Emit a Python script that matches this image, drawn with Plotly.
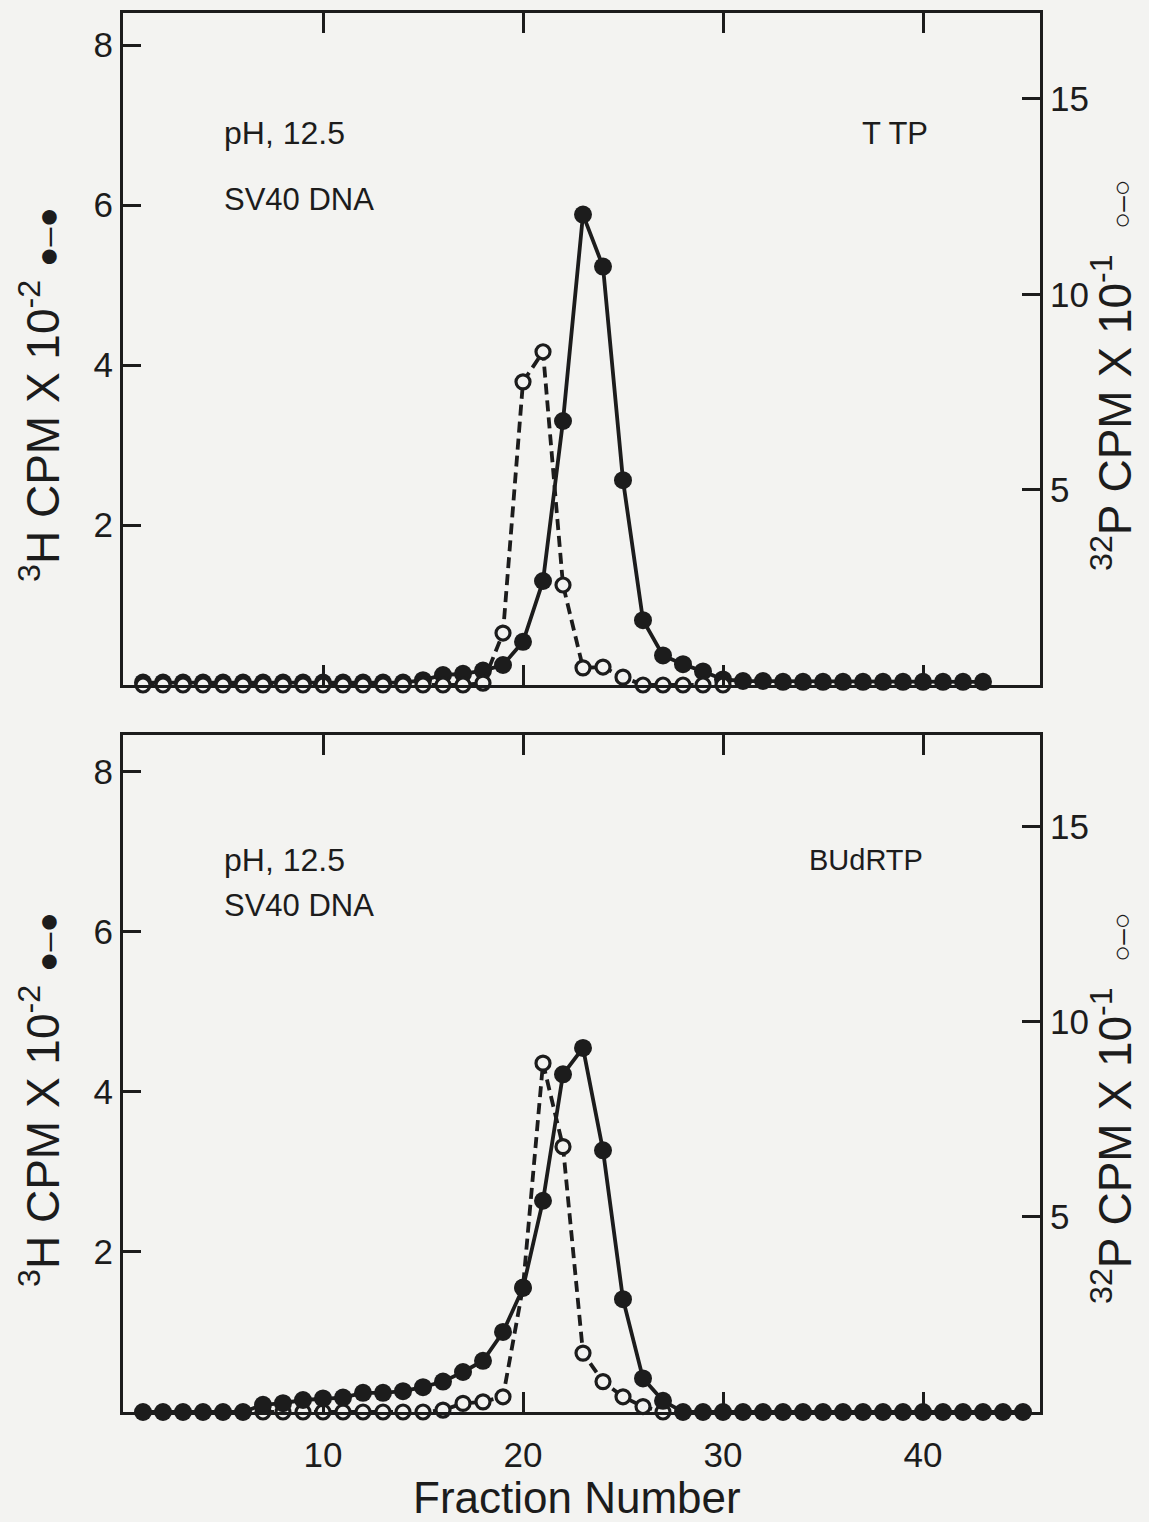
import plotly.graph_objects as go

# ---------------- data ----------------
# Top panel (TTP)
frac_ttp_3h = list(range(1, 44))
h3_ttp = [0.03, 0.03, 0.03, 0.03, 0.03, 0.03, 0.03, 0.03, 0.03, 0.03,
          0.03, 0.03, 0.03, 0.03, 0.06, 0.125, 0.14, 0.18, 0.25, 0.54,
          1.30, 3.30, 5.88, 5.23, 2.56, 0.81, 0.37, 0.26, 0.17, 0.07,
          0.05, 0.05, 0.04, 0.04, 0.04, 0.04, 0.04, 0.04, 0.04, 0.04,
          0.04, 0.04, 0.04]
frac_ttp_32p = list(range(1, 31))
p32_ttp = [0, 0, 0, 0, 0, 0, 0, 0, 0, 0,
           0, 0, 0, 0, 0, 0, 0, 0.05, 1.33, 7.76,
           8.53, 2.56, 0.44, 0.46, 0.2, 0, 0, 0, 0, 0]

# Bottom panel (BUdRTP)
frac_bu_3h = list(range(1, 46))
h3_bu = [0, 0, 0, 0, 0, 0, 0.09, 0.11, 0.15, 0.17,
         0.18, 0.24, 0.24, 0.26, 0.31, 0.38, 0.50, 0.64, 1.0, 1.55,
         2.64, 4.22, 4.55, 3.27, 1.41, 0.42, 0.14, 0, 0, 0,
         0, 0, 0, 0, 0, 0, 0, 0, 0, 0,
         0, 0, 0, 0, 0]
frac_bu_32p = list(range(7, 28))
p32_bu = [0, 0, 0, 0, 0, 0, 0, 0, 0, 0.05,
          0.22, 0.26, 0.39, 3.2, 8.94, 6.8, 1.51, 0.78, 0.39, 0.14,
          0]

x_ticks = [10, 20, 30, 40]
left_ticks = [2, 4, 6, 8]
right_ticks = [5, 10, 15]

# ---------------- style ----------------
INK = "#1c1c1c"
BG = "#f3f3f1"
FONT = "Liberation Sans"
W, H = 1149, 1522

def px_x(p):
    return p / W

def px_y(p):
    return 1 - p / H

xdom = [px_x(123), px_x(1040)]
top_dom = [px_y(685), px_y(13)]
bot_dom = [px_y(1412), px_y(735)]

fig = go.Figure()

filled_marker = dict(symbol="circle", size=18, color=INK, line=dict(width=0))
open_marker = dict(symbol="circle", size=14, color=BG, line=dict(width=3.2, color=INK))
solid_line = dict(color=INK, width=3.8)
dash_line = dict(color=INK, width=3.8, dash="11px,6px")

# top panel
fig.add_trace(go.Scatter(x=frac_ttp_3h, y=h3_ttp, mode="lines+markers",
                         line=solid_line, marker=filled_marker,
                         xaxis="x", yaxis="y", cliponaxis=False, showlegend=False))
fig.add_trace(go.Scatter(x=frac_ttp_32p, y=p32_ttp, mode="lines+markers",
                         line=dash_line, marker=open_marker,
                         xaxis="x", yaxis="y2", cliponaxis=False, showlegend=False))
# bottom panel: open on base axis (y3, right), filled on overlay (y4, left) so filled on top
fig.add_trace(go.Scatter(x=frac_bu_32p, y=p32_bu, mode="lines+markers",
                         line=dash_line, marker=open_marker,
                         xaxis="x2", yaxis="y3", cliponaxis=False, showlegend=False))
fig.add_trace(go.Scatter(x=frac_bu_3h, y=h3_bu, mode="lines+markers",
                         line=solid_line, marker=filled_marker,
                         xaxis="x2", yaxis="y4", cliponaxis=False, showlegend=False))

tickfont = dict(family=FONT, size=35, color=INK)
common_x = dict(domain=xdom, range=[0, 45.85], tickvals=x_ticks, ticks="inside",
                ticklen=20, tickwidth=2.5, tickcolor=INK, showline=True, linewidth=3,
                linecolor=INK, mirror="ticks", showgrid=False, zeroline=False,
                tickfont=tickfont)
left_y = dict(tickvals=left_ticks, ticks="inside", ticklen=18, tickwidth=2.5,
              tickcolor=INK, showline=True, linewidth=3, linecolor=INK,
              showgrid=False, zeroline=False, tickfont=tickfont, side="left")
right_y = dict(tickvals=right_ticks, ticks="inside", ticklen=18, tickwidth=2.5,
               tickcolor=INK, showline=True, linewidth=3, linecolor=INK,
               showgrid=False, zeroline=False, tickfont=tickfont, side="right")

fig.update_layout(
    width=W, height=H, autosize=False,
    margin=dict(l=0, r=0, t=0, b=0),
    paper_bgcolor=BG, plot_bgcolor=BG,
    font=dict(family=FONT, color=INK),
    xaxis=dict(common_x, anchor="y", showticklabels=False),
    yaxis=dict(left_y, domain=top_dom, range=[0, 8.4], anchor="x"),
    yaxis2=dict(right_y, range=[0, 17.2], overlaying="y", anchor="x"),
    xaxis2=dict(common_x, anchor="y3", showticklabels=True, ticklabelstandoff=10),
    yaxis3=dict(right_y, domain=bot_dom, range=[0, 17.35], anchor="x2"),
    yaxis4=dict(left_y, range=[0, 8.46], overlaying="y3", anchor="x2"),
)

ann = []
def txt(text, x, y, size, xanchor="center", angle=0):
    ann.append(dict(text=text, x=px_x(x), y=px_y(y), xref="paper", yref="paper",
                    xanchor=xanchor, yanchor="middle", showarrow=False,
                    textangle=angle, font=dict(family=FONT, size=size, color=INK)))

left_title = "<sup>3</sup>H CPM X 10<sup>-2</sup> <span style='font-size:34px'>●–●</span>"
right_title = "<sup>32</sup>P CPM X 10<sup>-1</sup>  <span style='font-size:28px'>○–○</span>"

txt(left_title, 40, 395, 46, angle=-90)
txt(left_title, 40, 1100, 46, angle=-90)
txt(right_title, 1112, 375, 46, angle=-90)
txt(right_title, 1112, 1108, 46, angle=-90)

txt("pH, 12.5", 222, 133, 32, xanchor="left")
txt("SV40 DNA", 222, 199, 31, xanchor="left")
txt("T TP", 930, 133, 31, xanchor="right")
txt("pH, 12.5", 222, 860, 32, xanchor="left")
txt("SV40 DNA", 222, 905, 31, xanchor="left")
txt("BUdRTP", 925, 860, 29, xanchor="right")

txt("Fraction Number", 577, 1497, 44)

fig.update_layout(annotations=ann)
fig.write_html("out.html")
